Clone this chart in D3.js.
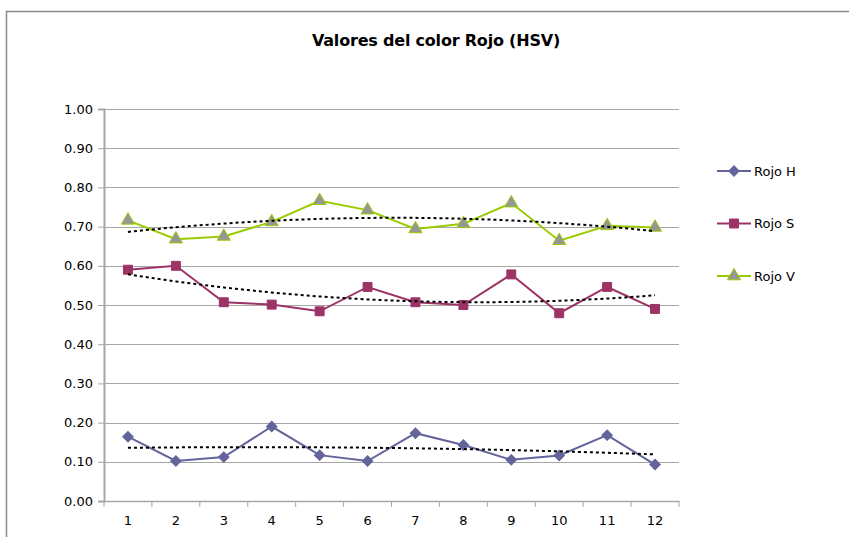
<!DOCTYPE html>
<html>
<head>
<meta charset="utf-8">
<script src="https://cdn.jsdelivr.net/npm/d3@7"></script>
<style>
  body { margin: 0; background: #fff; }
  text { font-family: "DejaVu Sans", Verdana, sans-serif; }
</style>
</head>
<body>
<div id="chart"></div>
<script>
// data
const categories = [1, 2, 3, 4, 5, 6, 7, 8, 9, 10, 11, 12];
const rojoH = [0.164, 0.102, 0.112, 0.190, 0.117, 0.102, 0.173, 0.143, 0.105, 0.116, 0.168, 0.093];
const rojoS = [0.590, 0.600, 0.507, 0.501, 0.484, 0.546, 0.507, 0.500, 0.578, 0.479, 0.546, 0.490];
const rojoV = [0.716, 0.668, 0.675, 0.712, 0.766, 0.742, 0.694, 0.707, 0.760, 0.664, 0.702, 0.698];
const yTicks = [0, 0.1, 0.2, 0.3, 0.4, 0.5, 0.6, 0.7, 0.8, 0.9, 1.0];
const seriesNames = ["Rojo H", "Rojo S", "Rojo V"];

const W = 849, H = 537;
const margin = {top: 109, right: 170, bottom: 35, left: 104};
const width = 679 - margin.left;
const height = 501 - margin.top;

const svg = d3.select("#chart").append("svg")
    .attr("width", W)
    .attr("height", H);

// outer chart border
svg.append("rect")
    .attr("x", 6.5).attr("y", 11.5)
    .attr("width", W).attr("height", H)
    .attr("fill", "none")
    .attr("stroke", "#8c8c8c")
    .attr("stroke-width", 1.5);

svg.append("text")
    .attr("x", 436).attr("y", 46)
    .attr("text-anchor", "middle")
    .attr("font-family", "'Open Sans', sans-serif")
    .attr("font-weight", "bold")
    .attr("font-size", 16)
    .attr("letter-spacing", -0.2)
    .text("Valores del color Rojo (HSV)");

const g = svg.append("g")
    .attr("transform", "translate(" + margin.left + "," + margin.top + ")");

const x = d3.scaleBand().domain(categories).range([0, width]);
const y = d3.scaleLinear().domain([0, 1]).range([height, 0]);
const cx = d => x(d) + x.bandwidth() / 2;

// gridlines
g.selectAll(".grid")
    .data(yTicks)
    .enter().append("line")
    .attr("x1", 0).attr("x2", width)
    .attr("y1", d => Math.round(y(d)) + 0.5)
    .attr("y2", d => Math.round(y(d)) + 0.5)
    .attr("stroke", "#a6a6a6")
    .attr("stroke-width", 1.2);

// y axis
const yAxis = g.append("g")
    .call(d3.axisLeft(y).tickValues(yTicks).tickFormat(d3.format(".2f")).tickSize(6).tickPadding(5));
yAxis.select(".domain").attr("stroke", "#a6a6a6").attr("stroke-width", 2);
yAxis.selectAll(".tick line").attr("stroke", "#a6a6a6");
yAxis.selectAll("text").attr("font-size", 13).attr("fill", "#000");

// x axis with ticks between categories
const xAxis = g.append("g")
    .attr("transform", "translate(0," + height + ")")
    .call(d3.axisBottom(x).tickSize(0).tickPadding(15));
xAxis.select(".domain").attr("stroke", "#a6a6a6").attr("stroke-width", 1.5);
xAxis.selectAll("text").attr("font-size", 13).attr("fill", "#000");
xAxis.selectAll(".sep")
    .data(categories.concat([null]))
    .enter().append("line")
    .attr("x1", (d, i) => i * x.bandwidth())
    .attr("x2", (d, i) => i * x.bandwidth())
    .attr("y1", 0).attr("y2", 6)
    .attr("stroke", "#a6a6a6");

// quadratic trend (least squares), like the spreadsheet trendline
function quadFit(xs, ys) {
    let s = [0, 0, 0, 0, 0], t = [0, 0, 0];
    xs.forEach((xv, i) => {
        for (let k = 0; k < 5; k++) s[k] += Math.pow(xv, k);
        for (let k = 0; k < 3; k++) t[k] += ys[i] * Math.pow(xv, k);
    });
    const A = [[s[0], s[1], s[2], t[0]], [s[1], s[2], s[3], t[1]], [s[2], s[3], s[4], t[2]]];
    for (let i = 0; i < 3; i++) {
        for (let j = i + 1; j < 3; j++) {
            const f = A[j][i] / A[i][i];
            for (let k = i; k < 4; k++) A[j][k] -= f * A[i][k];
        }
    }
    const c = [0, 0, 0];
    for (let i = 2; i >= 0; i--) {
        let v = A[i][3];
        for (let k = i + 1; k < 3; k++) v -= A[i][k] * c[k];
        c[i] = v / A[i][i];
    }
    return xv => c[0] + c[1] * xv + c[2] * xv * xv;
}

const series = [
    {name: seriesNames[0], values: rojoH, color: "#64649c", fill: "#64649c", shape: d3.symbolSquare, size: 55, rot: 45},
    {name: seriesNames[1], values: rojoS, color: "#9c3366", fill: "#9c3366", shape: d3.symbolSquare, size: 80, rot: 0},
    {name: seriesNames[2], values: rojoV, color: "#99cc00", fill: "#969696", shape: d3.symbolTriangle, size: 75, rot: 0}
];

const line = d3.line().x(d => cx(d.c)).y(d => y(d.v));

series.forEach(s => {
    const pts = categories.map((c, i) => ({c: c, v: s.values[i]}));

    g.append("path")
        .datum(pts)
        .attr("fill", "none")
        .attr("stroke", s.color)
        .attr("stroke-width", 2)
        .attr("d", line);

    g.selectAll(".m" + s.name.replace(" ", ""))
        .data(pts)
        .enter().append("path")
        .attr("transform", d => "translate(" + cx(d.c) + "," + y(d.v) + ") rotate(" + s.rot + ")")
        .attr("d", d3.symbol().type(s.shape).size(s.size))
        .attr("fill", s.fill)
        .attr("stroke", s.color)
        .attr("stroke-width", 1);
});

// trendlines drawn on top
series.forEach(s => {
    const fit = quadFit(categories, s.values);
    const tpts = d3.range(1, 12.01, 0.25).map(c => ({c: c, v: fit(c)}));
    const tx = d3.scaleLinear().domain([1, 12]).range([cx(1), cx(12)]);
    g.append("path")
        .datum(tpts)
        .attr("fill", "none")
        .attr("stroke", "#000")
        .attr("stroke-width", 2)
        .attr("stroke-dasharray", "3,3")
        .attr("d", d3.line().x(d => tx(d.c)).y(d => y(d.v)));
});

// legend
const legend = svg.append("g");
series.forEach((s, i) => {
    const ly = 171 + i * 52.5;
    legend.append("line")
        .attr("x1", 717).attr("x2", 751)
        .attr("y1", ly).attr("y2", ly)
        .attr("stroke", s.color).attr("stroke-width", 2);
    legend.append("path")
        .attr("transform", "translate(734," + ly + ") rotate(" + s.rot + ")")
        .attr("d", d3.symbol().type(s.shape).size(s.size))
        .attr("fill", s.fill)
        .attr("stroke", s.color);
    legend.append("text")
        .attr("x", 754).attr("y", ly + 4.5)
        .attr("font-size", 13)
        .text(s.name);
});
</script>
</body>
</html>
